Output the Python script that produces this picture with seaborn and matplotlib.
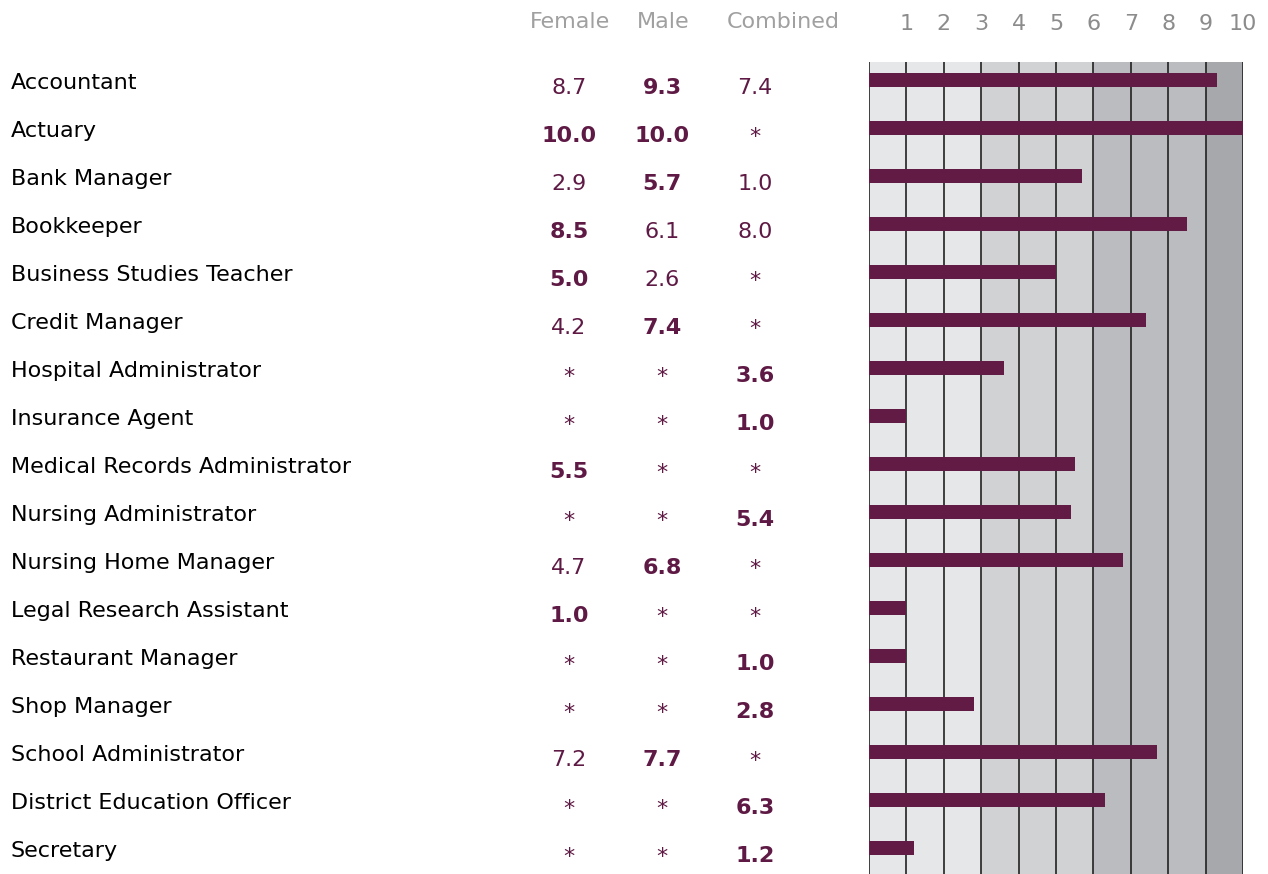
import matplotlib
matplotlib.use("Agg")
import matplotlib.pyplot as plt
import matplotlib.transforms as mtransforms
import seaborn as sns
import pandas as pd

categories = ["Accountant", "Actuary", "Bank Manager", "Bookkeeper",
              "Business Studies Teacher", "Credit Manager", "Hospital Administrator",
              "Insurance Agent", "Medical Records Administrator", "Nursing Administrator",
              "Nursing Home Manager", "Legal Research Assistant", "Restaurant Manager",
              "Shop Manager", "School Administrator", "District Education Officer",
              "Secretary"]
female = [8.7, 10.0, 2.9, 8.5, 5.0, 4.2, None, None, 5.5, None, 4.7, 1.0, None, None, 7.2, None, None]
male = [9.3, 10.0, 5.7, 6.1, 2.6, 7.4, None, None, None, None, 6.8, None, None, None, 7.7, None, None]
combined = [7.4, None, 1.0, 8.0, None, None, 3.6, 1.0, None, 5.4, None, None, 1.0, 2.8, None, 6.3, 1.2]
column_headers = ["Female", "Male", "Combined"]
tick_labels = ["1", "2", "3", "4", "5", "6", "7", "8", "9", "10"]

best = [max(v for v in (f, m, c) if v is not None) for f, m, c in zip(female, male, combined)]
df = pd.DataFrame({"category": categories, "value": best})

W, H = 1268, 874
fig = plt.figure(figsize=(W / 100, H / 100), dpi=100)
sns.set_style("white")
plt.rcParams['font.family'] = ['DejaVu Sans']

ax_l, ax_r, ax_t, ax_b = 869, 1243, 62, 874
ax = fig.add_axes([ax_l / W, 1 - ax_b / H, (ax_r - ax_l) / W, (ax_b - ax_t) / H])

bar_color = "#621b45"
band_colors = [(0, 3, "#e6e7e9"), (3, 6, "#d1d2d4"), (6, 9, "#bbbcbf"), (9, 10, "#a7a8ab")]
for a, b, c in band_colors:
    ax.axvspan(a, b, color=c, zorder=0, lw=0)
for x in range(0, 11):
    ax.axvline(x, color="#222222", lw=1.2, zorder=1)

sns.barplot(data=df, x="value", y="category", orient="h", color=bar_color,
            width=14 / 48, saturation=1, ax=ax, zorder=3, edgecolor="none", linewidth=0)

ax.set_xlim(0, 10)
ax.set_ylim(16 + 26 / 48, -18 / 48)
ax.set_xticks([])
ax.set_yticks([])
ax.set_xlabel("")
ax.set_ylabel("")
for s in ax.spines.values():
    s.set_visible(False)

trans = mtransforms.blended_transform_factory(fig.transFigure, ax.transData)
fs = 16
num_color = "#5e1a44"
col_x = [569, 662, 755]
for i, cat in enumerate(categories):
    ax.text(11 / W, i + 3 / 48, cat, transform=trans, ha="left", va="center",
            fontsize=fs, color="black")
    for cx, series in zip(col_x, (female, male, combined)):
        v = series[i]
        if v is None:
            ax.text(cx / W, i + 9 / 48, "*", transform=trans, ha="center", va="center",
                    fontsize=fs, color=num_color)
        else:
            bold = (v == best[i])
            ax.text(cx / W, i + 8 / 48, f"{v:.1f}", transform=trans, ha="center",
                    va="center", fontsize=fs, color=num_color,
                    fontweight="bold" if bold else "normal")

header_x = [570, 663, 783]
for hx, h in zip(header_x, column_headers):
    fig.text(hx / W, 1 - 22 / H, h, ha="center", va="center", fontsize=fs, color="#a0a0a0")

for k, t in enumerate(tick_labels):
    px = ax_l + (k + 1) * (ax_r - ax_l) / 10
    fig.text(px / W, 1 - 24 / H, t, ha="center", va="center", fontsize=fs, color="#8c8c8c")

fig.savefig("out.png", dpi=100)
